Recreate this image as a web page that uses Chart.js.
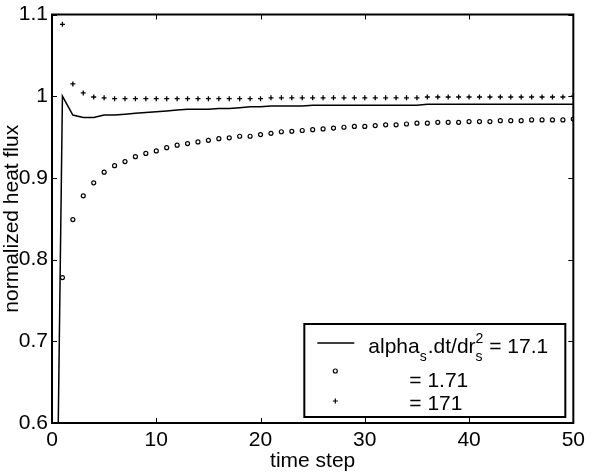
<!DOCTYPE html>
<html>
<head>
<meta charset="utf-8">
<script src="https://cdn.jsdelivr.net/npm/chart.js@4"></script>
<style>
  html, body { margin: 0; padding: 0; background: #fff; }
  #wrap { width: 592px; height: 474px; }
</style>
</head>
<body>
<div id="wrap"><canvas id="chart"></canvas></div>
<script>
// datos
const steps = [];
for (let i = 0; i <= 50; i++) steps.push(i);

// alpha_s.dt/dr_s^2 = 17.1 (linea)
const flux171 = [0.0, 1.000, 0.977, 0.974, 0.974, 0.977, 0.977, 0.978, 0.979, 0.980,
  0.981, 0.982, 0.983, 0.984, 0.984, 0.984, 0.985, 0.985, 0.986, 0.987,
  0.987, 0.988, 0.988, 0.988, 0.988, 0.989, 0.989, 0.989, 0.989, 0.989,
  0.989, 0.989, 0.989, 0.989, 0.989, 0.989, 0.990, 0.990, 0.990, 0.990,
  0.990, 0.990, 0.990, 0.990, 0.990, 0.990, 0.990, 0.990, 0.990, 0.990, 0.990];

// = 1.71 (circulos)
const flux1_71 = [null, 0.778, 0.849, 0.878, 0.894, 0.907, 0.915, 0.920, 0.926, 0.930,
  0.933, 0.937, 0.940, 0.942, 0.944, 0.946, 0.948, 0.949, 0.951, 0.951,
  0.953, 0.9545, 0.9565, 0.957, 0.958, 0.959, 0.960, 0.961, 0.962, 0.963,
  0.963, 0.964, 0.965, 0.965, 0.966, 0.967, 0.967, 0.968, 0.968, 0.968,
  0.969, 0.969, 0.969, 0.970, 0.970, 0.970, 0.971, 0.971, 0.971, 0.971, 0.972];

// = 171 (cruces)
const flux171b = [null, 1.088, 1.015, 1.004, 0.999, 0.998, 0.997, 0.997, 0.997, 0.997,
  0.997, 0.997, 0.997, 0.997, 0.997, 0.997, 0.997, 0.997, 0.997, 0.997,
  0.997, 0.998, 0.998, 0.998, 0.998, 0.998, 0.998, 0.998, 0.998, 0.998,
  0.998, 0.998, 0.998, 0.998, 0.998, 0.998, 0.999, 0.999, 0.999, 0.999,
  0.999, 0.999, 0.999, 0.999, 0.999, 0.999, 0.999, 0.999, 0.999, 0.999, 1.000];

const xTicks = [0, 10, 20, 30, 40, 50];
const yTicks = [0.6, 0.7, 0.8, 0.9, 1.0, 1.1];

const FONT = "'Liberation Sans', Arial, sans-serif";

function toXY(vals){
    return steps.map((s, i) => ({x: s, y: vals[i]}));
}

// caja del grafico + marcas de ticks hacia adentro
const boxPlugin = {
    id: 'boxTicks',
    afterDatasetsDraw(chart){
        const {ctx, chartArea: a, scales} = chart;
        ctx.save();
        ctx.strokeStyle = '#000';
        ctx.lineWidth = 1;
        ctx.beginPath();
        xTicks.forEach(v => {
            const px = Math.round(scales.x.getPixelForValue(v)) + 0.5;
            ctx.moveTo(px, a.bottom); ctx.lineTo(px, a.bottom - 5);
            ctx.moveTo(px, a.top); ctx.lineTo(px, a.top + 5);
        });
        yTicks.forEach(v => {
            const py = Math.round(scales.y.getPixelForValue(v)) + 0.5;
            ctx.moveTo(a.left, py); ctx.lineTo(a.left + 5, py);
            ctx.moveTo(a.right, py); ctx.lineTo(a.right - 5, py);
        });
        ctx.stroke();
        ctx.lineWidth = 2;
        ctx.strokeRect(a.left, a.top, a.right - a.left, a.bottom - a.top);
        ctx.restore();
    }
};

// leyenda con subindices (Chart.js no los soporta)
const legendPlugin = {
    id: 'legendBox',
    afterDraw(chart){
        const {ctx, chartArea: a} = chart;
        const w = 261, h = 93;
        const L = a.right - 8 - w, T = a.bottom - 6 - h;
        ctx.save();
        ctx.fillStyle = '#fff';
        ctx.fillRect(L, T, w, h);
        ctx.strokeStyle = '#000';
        ctx.lineWidth = 2;
        ctx.strokeRect(L, T, w, h);

        // muestra de linea
        ctx.lineWidth = 1.5;
        ctx.beginPath();
        ctx.moveTo(L + 13, T + 19); ctx.lineTo(L + 50, T + 19);
        ctx.stroke();
        // circulo
        ctx.lineWidth = 1.2;
        ctx.beginPath();
        ctx.arc(L + 31, T + 47, 2, 0, Math.PI * 2);
        ctx.stroke();
        // cruz
        ctx.beginPath();
        ctx.moveTo(L + 28.5, T + 77); ctx.lineTo(L + 33.5, T + 77);
        ctx.moveTo(L + 31, T + 74.5); ctx.lineTo(L + 31, T + 79.5);
        ctx.stroke();

        ctx.fillStyle = '#000';
        ctx.textBaseline = 'alphabetic';
        ctx.textAlign = 'left';
        const big = '21px ' + FONT, small = '14px ' + FONT;
        let x = L + 64, base = T + 29;
        ctx.font = big;
        ctx.fillText('alpha', x, base); x += ctx.measureText('alpha').width;
        ctx.font = small;
        ctx.fillText('s', x, base + 8); x += ctx.measureText('s').width + 1;
        ctx.font = big;
        ctx.fillText('.dt/dr', x, base); x += ctx.measureText('.dt/dr').width;
        ctx.font = small;
        ctx.fillText('s', x, base + 8);
        ctx.fillText('2', x, base - 10);
        x += ctx.measureText('2').width;
        ctx.font = big;
        ctx.fillText(' = 17.1', x, base);

        ctx.fillText('= 1.71', L + 105, T + 63);
        ctx.fillText('= 171', L + 105, T + 86);
        ctx.restore();
    }
};

new Chart(document.getElementById('chart').getContext('2d'), {
    type: 'line',
    data: {
        datasets: [
            {
                label: '17.1',
                data: toXY(flux171),
                borderColor: '#000',
                borderWidth: 1.5,
                pointRadius: 0,
                tension: 0,
                fill: false
            },
            {
                label: '1.71',
                data: toXY(flux1_71),
                showLine: false,
                pointStyle: 'circle',
                pointRadius: 2,
                borderColor: '#000',
                backgroundColor: 'rgba(0,0,0,0)',
                pointBorderWidth: 1.2
            },
            {
                label: '171',
                data: toXY(flux171b),
                showLine: false,
                pointStyle: 'cross',
                pointRadius: 2.5,
                borderColor: '#000',
                pointBorderWidth: 1.3
            }
        ]
    },
    options: {
        responsive: true,
        maintainAspectRatio: false,
        animation: false,
        layout: { padding: { top: 11, right: 16, left: 0, bottom: 0 } },
        plugins: {
            legend: { display: false },
            tooltip: { enabled: false }
        },
        scales: {
            x: {
                type: 'linear',
                min: 0, max: 50,
                afterFit: s => { s.height = 51; },
                afterBuildTicks: s => { s.ticks = xTicks.map(v => ({value: v})); },
                grid: { display: false, drawTicks: false },
                border: { display: false },
                ticks: {
                    color: '#000',
                    padding: 7,
                    maxRotation: 0,
                    font: { family: FONT, size: 21, lineHeight: 1 }
                },
                title: {
                    display: true,
                    text: 'time step',
                    color: '#000',
                    padding: { top: 0, bottom: 0 },
                    font: { family: FONT, size: 21 }
                }
            },
            y: {
                min: 0.6, max: 1.1,
                afterFit: s => { s.width = 52; },
                afterBuildTicks: s => { s.ticks = yTicks.map(v => ({value: v})); },
                grid: { display: false, drawTicks: false },
                border: { display: false },
                ticks: {
                    color: '#000',
                    padding: 4,
                    font: { family: FONT, size: 21, lineHeight: 1 },
                    callback: v => (v === 1 ? '1' : Number(v).toFixed(1))
                },
                title: {
                    display: true,
                    text: 'normalized heat flux',
                    color: '#000',
                    padding: { top: 0, bottom: 0 },
                    font: { family: FONT, size: 21 }
                }
            }
        }
    },
    plugins: [boxPlugin, legendPlugin]
});
</script>
</body>
</html>
